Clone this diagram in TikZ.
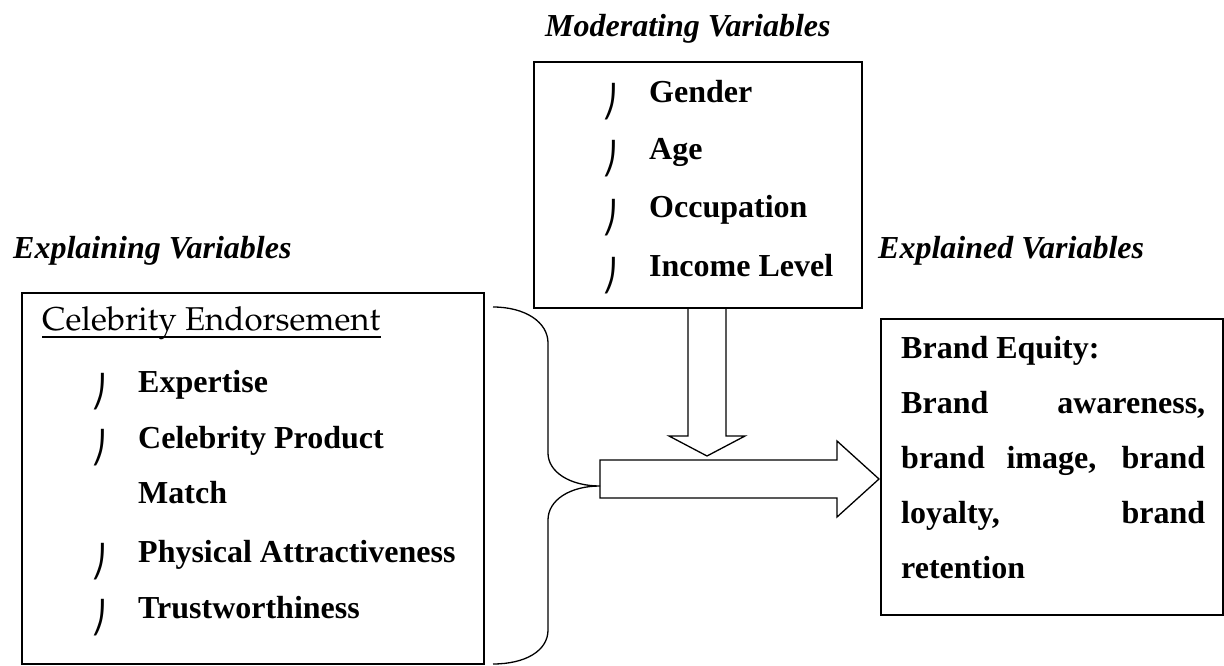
\documentclass[tikz,border=0pt]{standalone}
\usepackage[T1,TU]{fontenc}
\usepackage{fontspec}
\setmainfont{Liberation Serif}
\newfontfamily\symfam{DejaVu Sans}
\usetikzlibrary{positioning,calc}
\newcommand{\palfont}{\fontencoding{T1}\fontfamily{ppl}\selectfont}
\tikzset{
  vbox/.style={draw,line width=1.6pt,inner sep=0pt,anchor=north west},
  head/.style={font=\fontsize{32}{38}\selectfont\bfseries\itshape,anchor=base west,inner sep=0pt},
  item/.style={font=\fontsize{32}{38}\selectfont\bfseries,anchor=base west,inner sep=0pt},
  bul/.style={font=\symfam\fontsize{31}{31}\selectfont,anchor=base west,inner sep=0pt,yshift=-10pt},
  blk/.style={line width=1.3pt,line join=miter},
}
\begin{document}
\begin{tikzpicture}[x=1pt,y=-1pt]
  \useasboundingbox (0,0) rectangle (1224,666);
  % moderating variables
  \node[head] (modt) at (545,37) {Moderating Variables};
  \node[vbox,minimum width=328pt,minimum height=246pt] (mod) at (533,61) {};
  \foreach \t/\y [count=\i] in {Gender/103,Age/160,Occupation/218,Income Level/276}{
    \node[bul] (mb\i) at (602,\y) {⎠};
    \node[item] (m\i) at (649,\y) {\t};
  }
  % explaining variables
  \node[head] (explt) at (13,258) {Explaining Variables};
  \node[vbox,minimum width=462pt,minimum height=371pt] (expl) at (21,292) {};
  \node[anchor=base west,inner sep=0pt,font=\palfont\fontsize{33}{40}\selectfont] (ce) at (42,330) {Celebrity Endorsement};
  \draw[line width=1.3pt] ($(ce.base west)+(0,7)$) -- ($(ce.base east)+(0,7)$);
  \foreach \t/\y [count=\i] in {Expertise/392,Celebrity Product/448,Physical Attractiveness/562,Trustworthiness/618}{
    \node[bul] (eb\i) at (91,\y) {⎠};
    \node[item] (e\i) at (138,\y) {\t};
  }
  \node[item] (e5) at (138,503) {Match};
  % explained variables
  \node[head] (eqt) at (878,258) {Explained Variables};
  \node[vbox,minimum width=342pt,minimum height=296pt] (eq) at (880,318) {};
  \node[item] (q1) at (901,358) {Brand Equity:};
  \node[item] (q2) at (901,413) {\makebox[304pt][s]{Brand awareness,}};
  \node[item] (q3) at (901,468) {\makebox[304pt][s]{brand image, brand}};
  \node[item] (q4) at (901,523) {\makebox[304pt][s]{loyalty, brand}};
  \node[item] (q5) at (901,578) {retention};
  % brace and block arrows
  \coordinate (tip) at (600,486);
  \draw[blk] (493,307) .. controls (525,307) and (548,322) .. (548,343) -- (548,453)
    .. controls (548,472) and (570,486) .. (tip)
    .. controls (570,486) and (548,500) .. (548,520) -- (548,630)
    .. controls (548,651) and (525,664) .. (493,664);
  \draw[blk] (688,307) -- (688,436) -- (669,436) -- (707,456) -- (745,436) -- (726,436) -- (726,307);
  \draw[blk] (600,460) -- (837,460) -- (837,441) -- (879,479) -- (837,517) -- (837,498) -- (600,498) -- cycle;
\end{tikzpicture}
\end{document}
